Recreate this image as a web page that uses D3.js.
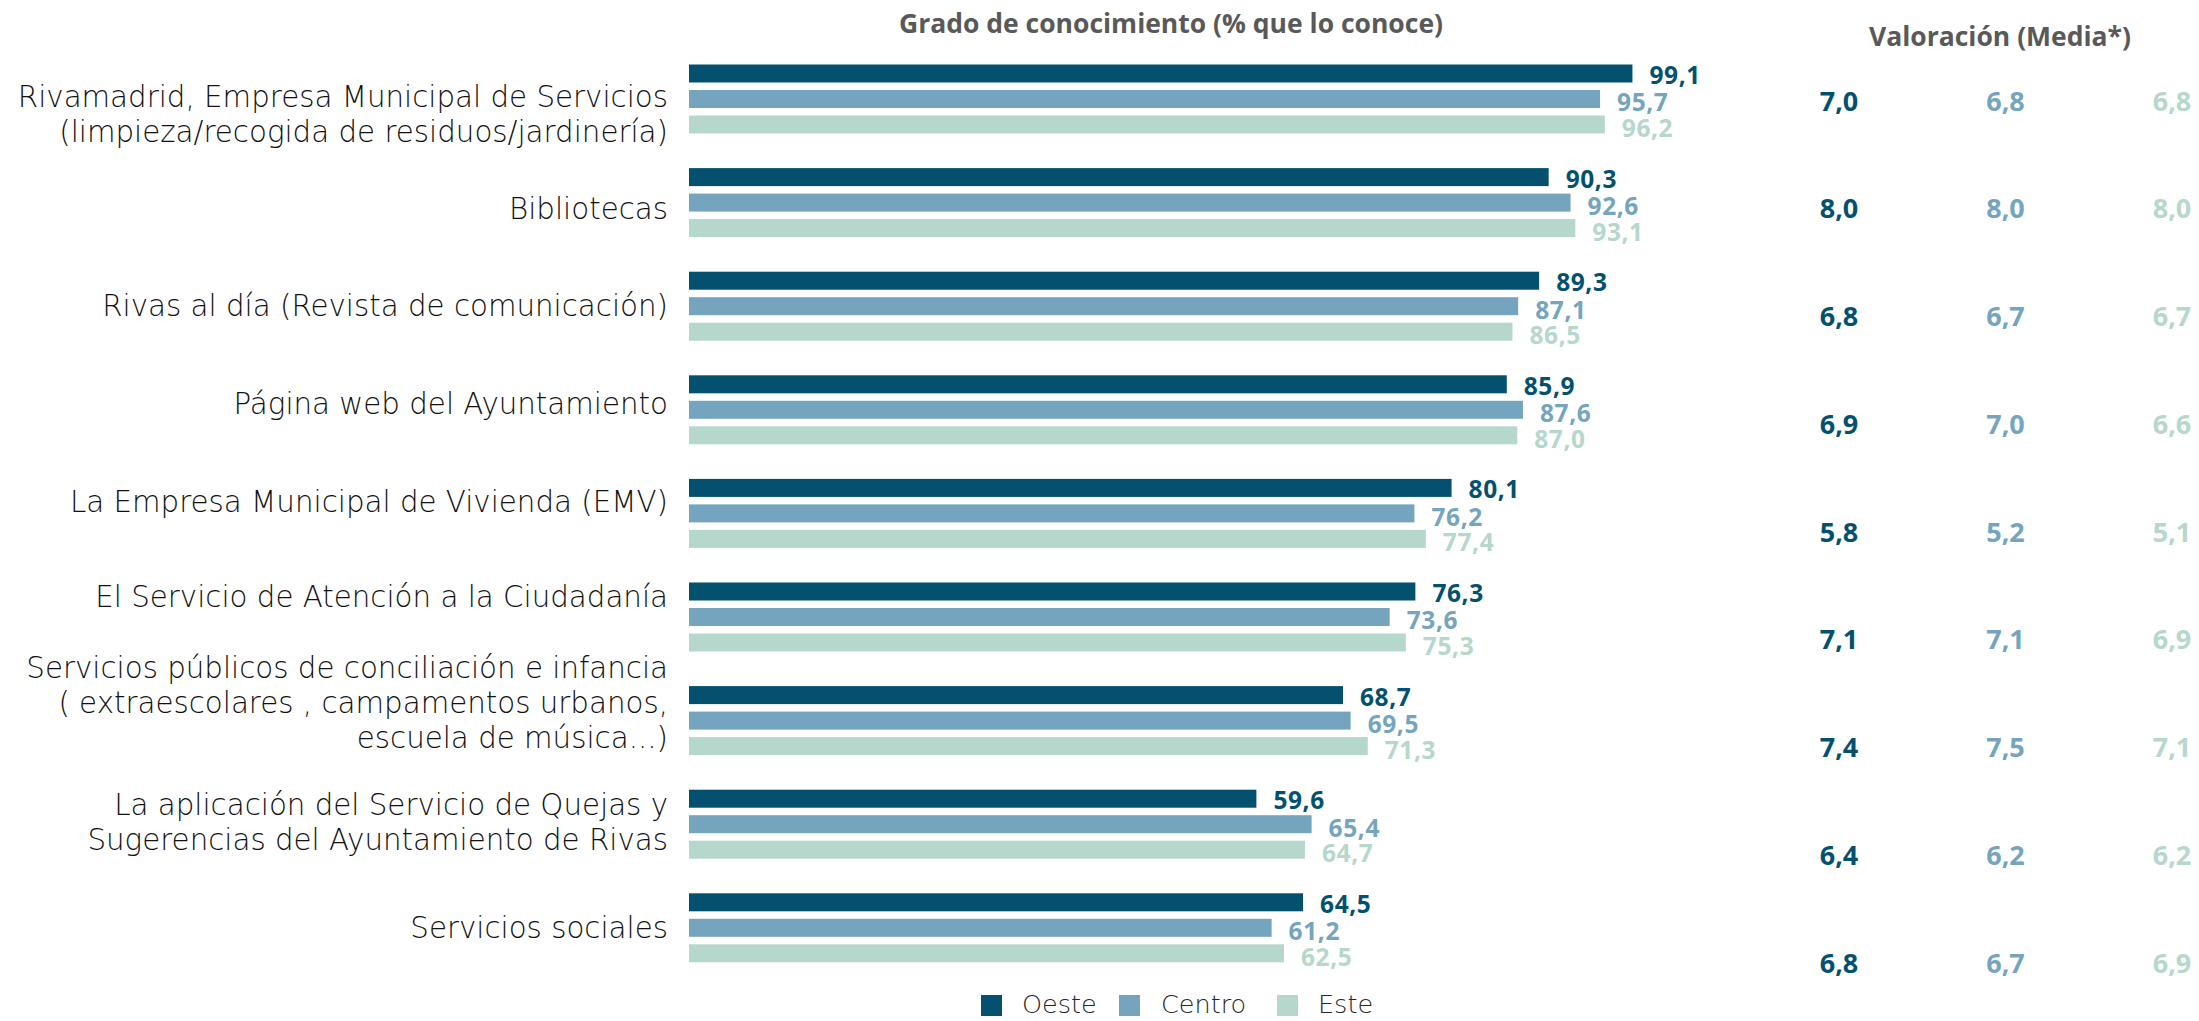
<!DOCTYPE html>
<html><head><meta charset="utf-8">
<script src="https://cdn.jsdelivr.net/npm/d3@7"></script>
<style>
html,body{margin:0;padding:0;background:#fff;}
svg{display:block;}
</style></head>
<body>
<svg id="chart" width="2199" height="1021"></svg>
<script>
// ---- data ----
const categories = [
  ["Rivamadrid, Empresa Municipal de Servicios", "(limpieza/recogida de residuos/jardinería)"],
  ["Bibliotecas"],
  ["Rivas al día (Revista de comunicación)"],
  ["Página web del Ayuntamiento"],
  ["La Empresa Municipal de Vivienda (EMV)"],
  ["El Servicio de Atención a la Ciudadanía"],
  ["Servicios públicos de conciliación e infancia", "( extraescolares , campamentos urbanos,", "escuela de música...)"],
  ["La aplicación del Servicio de Quejas y", "Sugerencias del Ayuntamiento de Rivas"],
  ["Servicios sociales"]
];
const series = ["Oeste", "Centro", "Este"];
const conocimientoOeste  = [99.1, 90.3, 89.3, 85.9, 80.1, 76.3, 68.7, 59.6, 64.5];
const conocimientoCentro = [95.7, 92.6, 87.1, 87.6, 76.2, 73.6, 69.5, 65.4, 61.2];
const conocimientoEste   = [96.2, 93.1, 86.5, 87.0, 77.4, 75.3, 71.3, 64.7, 62.5];
const valoracionOeste  = [7.0, 8.0, 6.8, 6.9, 5.8, 7.1, 7.4, 6.4, 6.8];
const valoracionCentro = [6.8, 8.0, 6.7, 7.0, 5.2, 7.1, 7.5, 6.2, 6.7];
const valoracionEste   = [6.8, 8.0, 6.7, 6.6, 5.1, 6.9, 7.1, 6.2, 6.9];
const titleConocimiento = "Grado de conocimiento (% que lo conoce)";
const titleValoracion = "Valoración (Media*)";

// ---- styles / layout ----
const colors = {Oeste: "#03506f", Centro: "#75a5be", Este: "#b6d7cc"};
const labelDy = [16, 6, 0, -6, -11, -20, -18, -2, 0];
const FONT = "'Open Sans', 'Noto Sans', sans-serif";
const LABEL_FONT = "'DejaVu Sans', 'Open Sans', sans-serif";

const conoc = {Oeste: conocimientoOeste, Centro: conocimientoCentro, Este: conocimientoEste};
const valor = {Oeste: valoracionOeste, Centro: valoracionCentro, Este: valoracionEste};
const idx = d3.range(categories.length);

const locale = d3.formatLocale({decimal: ",", thousands: ".", grouping: [3], currency: ["", "€"]});
const fmt = locale.format(".1f");

const svg = d3.select("#chart");

const x = d3.scaleLinear().domain([0, 100]).range([689, 1641]);
const y0 = d3.scaleBand().domain(idx).range([64.5, 962.3]).paddingInner(0.334).paddingOuter(0);
const y1 = d3.scaleBand().domain(series).range([0, y0.bandwidth()]).paddingInner(0.294).paddingOuter(0);

const yv = d3.scalePoint().domain(idx).range([100, 962]);
const xv = d3.scalePoint().domain(series).range([1839, 2172]);

// titles
svg.append("text").attr("x", 1171).attr("y", 33).attr("text-anchor", "middle")
  .attr("font-family", FONT).attr("font-weight", 700).attr("font-size", 26.5).attr("fill", "#595959")
  .text(titleConocimiento);
svg.append("text").attr("x", 2000).attr("y", 46).attr("text-anchor", "middle")
  .attr("font-family", FONT).attr("font-weight", 700).attr("font-size", 26.5).attr("fill", "#595959")
  .text(titleValoracion);

// groups
const g = svg.selectAll("g.row").data(idx).join("g").attr("class", "row")
  .attr("transform", i => `translate(0,${y0(i)})`);

g.selectAll("rect").data(i => series.map(s => ({s, v: conoc[s][i]}))).join("rect")
  .attr("x", x(0)).attr("y", d => y1(d.s)).attr("height", y1.bandwidth())
  .attr("width", d => x(d.v) - x(0)).attr("fill", d => colors[d.s]);

g.selectAll("text.val").data(i => series.map(s => ({s, v: conoc[s][i]}))).join("text")
  .attr("class", "val")
  .attr("x", d => x(d.v) + 17).attr("y", d => y1(d.s) + y1.bandwidth() / 2 + (d.s === "Oeste" ? 1 : 3))
  .attr("dominant-baseline", "central")
  .attr("font-family", FONT).attr("font-weight", 700).attr("font-size", 24.5)
  .attr("letter-spacing", 0.6)
  .attr("fill", d => colors[d.s]).text(d => fmt(d.v));

// category labels
const lh = 35;
g.append("text").attr("text-anchor", "end")
  .attr("font-family", LABEL_FONT).attr("font-weight", 300).attr("font-size", 29.3).attr("fill", "#111")
  .each(function(i) {
    const lines = categories[i];
    const c = y0.bandwidth() / 2 + labelDy[i] - (lines.length - 1) * lh / 2;
    d3.select(this).selectAll("tspan").data(lines).join("tspan")
      .attr("x", 668).attr("y", (l, k) => c + k * lh).attr("dominant-baseline", "central").text(l => l);
  });

// valoración
svg.selectAll("g.vrow").data(idx).join("g").attr("class", "vrow")
  .selectAll("text").data(i => series.map(s => ({s, v: valor[s][i], i}))).join("text")
  .attr("x", d => xv(d.s)).attr("y", d => yv(d.i)).attr("text-anchor", "middle")
  .attr("dominant-baseline", "central")
  .attr("font-family", FONT).attr("font-weight", 700).attr("font-size", 27)
  .attr("fill", d => colors[d.s]).text(d => fmt(d.v));

// legend
const legendItems = [
  {s: "Oeste", sx: 981, tx: 1022},
  {s: "Centro", sx: 1119, tx: 1161},
  {s: "Este", sx: 1277, tx: 1318}
];
const lg = svg.append("g").selectAll("g").data(legendItems).join("g");
lg.append("rect").attr("x", d => d.sx).attr("y", 995).attr("width", 21).attr("height", 21)
  .attr("fill", d => colors[d.s]);
lg.append("text").attr("x", d => d.tx).attr("y", 1004).attr("dominant-baseline", "central")
  .attr("font-family", LABEL_FONT).attr("font-weight", 300).attr("font-size", 25.5).attr("fill", "#262626")
  .text(d => d.s);
</script>
</body></html>
